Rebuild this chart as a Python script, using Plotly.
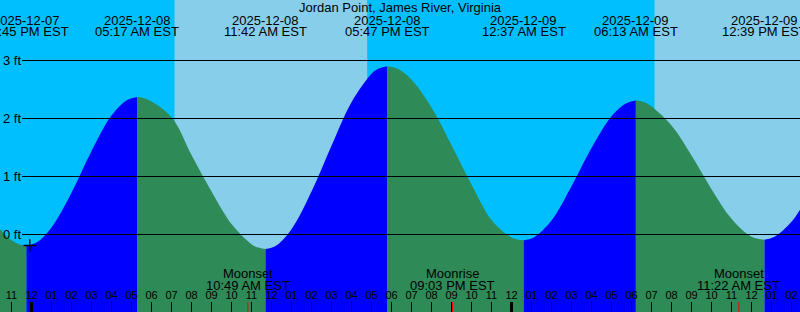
import plotly.graph_objects as go
import pandas as pd

station = "Jordan Point, James River, Virginia"

# Tide curve readings (local time EST, feet)
tide_times = [
    "2025-12-07 22:18", "2025-12-07 23:00", "2025-12-07 23:30", "2025-12-07 23:45",
    "2025-12-08 00:15", "2025-12-08 01:00", "2025-12-08 02:00", "2025-12-08 03:00",
    "2025-12-08 04:00", "2025-12-08 04:47", "2025-12-08 05:17", "2025-12-08 05:47",
    "2025-12-08 07:00", "2025-12-08 08:00", "2025-12-08 09:00", "2025-12-08 10:00",
    "2025-12-08 11:00", "2025-12-08 11:12", "2025-12-08 11:42", "2025-12-08 12:12",
    "2025-12-08 13:00", "2025-12-08 14:00", "2025-12-08 15:00", "2025-12-08 16:00",
    "2025-12-08 17:00", "2025-12-08 17:17", "2025-12-08 17:47", "2025-12-08 18:17",
    "2025-12-08 19:00", "2025-12-08 20:00", "2025-12-08 21:00", "2025-12-08 22:00",
    "2025-12-08 23:00", "2025-12-09 00:00", "2025-12-09 00:37", "2025-12-09 01:07",
    "2025-12-09 02:00", "2025-12-09 03:00", "2025-12-09 04:00", "2025-12-09 05:00",
    "2025-12-09 05:43", "2025-12-09 06:13", "2025-12-09 06:43", "2025-12-09 08:00",
    "2025-12-09 09:00", "2025-12-09 10:00", "2025-12-09 11:00", "2025-12-09 12:00",
    "2025-12-09 12:39", "2025-12-09 13:09", "2025-12-09 14:00", "2025-12-09 14:30",
]
tide_ft = [
    0.14, -0.10, -0.18, -0.19,
    -0.14, 0.12, 0.72, 1.44,
    2.05, 2.32, 2.37, 2.33,
    2.02, 1.37, 0.74, 0.18,
    -0.17, -0.21, -0.25, -0.20,
    0.09, 0.74, 1.53, 2.28,
    2.77, 2.85, 2.90, 2.86,
    2.67, 2.19, 1.54, 0.86,
    0.25, -0.05, -0.10, -0.05,
    0.24, 0.83, 1.49, 2.04,
    2.26, 2.31, 2.27, 1.88,
    1.36, 0.78, 0.27, -0.04,
    -0.09, -0.04, 0.22, 0.47,
]

# High / low tides
extreme_times = ["2025-12-07 23:45", "2025-12-08 05:17", "2025-12-08 11:42",
                 "2025-12-08 17:47", "2025-12-09 00:37", "2025-12-09 06:13",
                 "2025-12-09 12:39"]

# Daylight intervals (sunrise, sunset)
sunrise_times = ["2025-12-08 07:09", "2025-12-09 07:09"]
sunset_times = ["2025-12-08 16:47", "2025-12-09 16:47"]

# Moon events
moon_names = ["Moonset", "Moonrise", "Moonset"]
moon_times = ["2025-12-08 10:49", "2025-12-08 21:03", "2025-12-09 11:22"]

midnights = ["2025-12-08 00:00", "2025-12-09 00:00"]
now_time = ["2025-12-07 23:55"]
now_ft = [-0.19]

y_ticks = [0, 1, 2, 3]
y_tick_labels = ["0 ft", "1 ft", "2 ft", "3 ft"]

x_range = ["2025-12-07 22:25:30", "2025-12-09 14:25:30"]
y_range = [-1.3362, 4.0431]

NIGHT = "#00BFFF"
DAY = "#87CEEB"
RISING = "#0000FF"
FALLING = "#2E8B57"
FONT = "Liberation Sans, Arial, sans-serif"
H = 312

t = pd.to_datetime(pd.Series(tide_times))
v = pd.Series(tide_ft)
ext = pd.to_datetime(pd.Series(extreme_times))

fig = go.Figure()

bounds = [t.iloc[0]] + list(ext) + [t.iloc[-1]]
for a, b in zip(bounds[:-1], bounds[1:]):
    m = (t >= a) & (t <= b)
    st, sv = t[m], v[m]
    if len(st) < 2:
        continue
    color = RISING if sv.iloc[-1] > sv.iloc[0] else FALLING
    fig.add_trace(go.Scatter(x=[st.iloc[0], st.iloc[-1]], y=[-3, -3], mode="lines",
                             line=dict(width=0), hoverinfo="skip", showlegend=False))
    fig.add_trace(go.Scatter(x=st, y=sv, mode="lines", fill="tonexty", fillcolor=color,
                             line=dict(width=0, shape="spline", smoothing=1),
                             hoverinfo="skip", showlegend=False))

fig.add_trace(go.Scatter(x=pd.to_datetime(now_time), y=now_ft, mode="markers",
                         marker=dict(symbol="cross-thin", size=9,
                                     line=dict(color="black", width=1.3)),
                         showlegend=False, hoverinfo="skip"))

shapes = []
for sr, ss in zip(sunrise_times, sunset_times):
    shapes.append(dict(type="rect", xref="x", yref="paper", x0=sr, x1=ss, y0=0, y1=1,
                       fillcolor=DAY, line=dict(width=0), layer="below"))
for yv in y_ticks:
    shapes.append(dict(type="line", xref="paper", yref="y", x0=22 / 800, x1=1,
                       y0=yv, y1=yv, line=dict(color="black", width=1), layer="above"))
for mdt in midnights:
    shapes.append(dict(type="line", xref="x", yref="paper", x0=mdt, x1=mdt,
                       y0=0, y1=10 / H, line=dict(color="black", width=3), layer="above"))
for mt in moon_times:
    shapes.append(dict(type="line", xref="x", yref="paper", x0=mt, x1=mt,
                       y0=0, y1=10 / H, line=dict(color="red", width=1), layer="above"))

ann = []
tf = dict(family=FONT, size=13, color="black")
ann.append(dict(text=station, xref="paper", yref="paper", x=0.5, y=1 - 7.3 / H,
                xanchor="center", yanchor="middle", showarrow=False, font=tf))
for e in ext:
    ann.append(dict(text=e.strftime("%Y-%m-%d"), xref="x", yref="paper", x=e,
                    y=1 - 20 / H, xanchor="center", yanchor="middle", showarrow=False, font=tf))
    ann.append(dict(text=e.strftime("%I:%M %p EST"), xref="x", yref="paper", x=e,
                    y=1 - 31.7 / H, xanchor="center", yanchor="middle", showarrow=False, font=tf))
for name, mt in zip(moon_names, pd.to_datetime(pd.Series(moon_times))):
    ann.append(dict(text=name, xref="x", yref="paper", x=mt, y=1 - 273.3 / H,
                    xanchor="center", yanchor="middle", showarrow=False, font=tf))
    ann.append(dict(text=mt.strftime("%I:%M %p EST"), xref="x", yref="paper", x=mt,
                    y=1 - 285 / H, xanchor="center", yanchor="middle", showarrow=False, font=tf))
for yv, lab in zip(y_ticks, y_tick_labels):
    ann.append(dict(text=lab, xref="paper", yref="y", x=0, y=yv, xshift=1,
                    xanchor="left", yanchor="middle", showarrow=False, font=tf))

fig.update_layout(
    width=800, height=312, margin=dict(l=0, r=0, t=0, b=0),
    paper_bgcolor=NIGHT, plot_bgcolor=NIGHT,
    shapes=shapes, annotations=ann, showlegend=False,
    xaxis=dict(type="date", range=x_range, showgrid=False, zeroline=False, showline=False,
               ticks="inside", ticklen=10, tickwidth=1, tickcolor="black",
               tick0="2025-12-08 00:00", dtick=3600000, tickformat="%I",
               ticklabelposition="inside", ticklabeloverflow="allow",
               tickfont=dict(family=FONT, size=11, color="black")),
    yaxis=dict(range=y_range, visible=False, showgrid=False, zeroline=False),
)

fig.write_html("out.html")
